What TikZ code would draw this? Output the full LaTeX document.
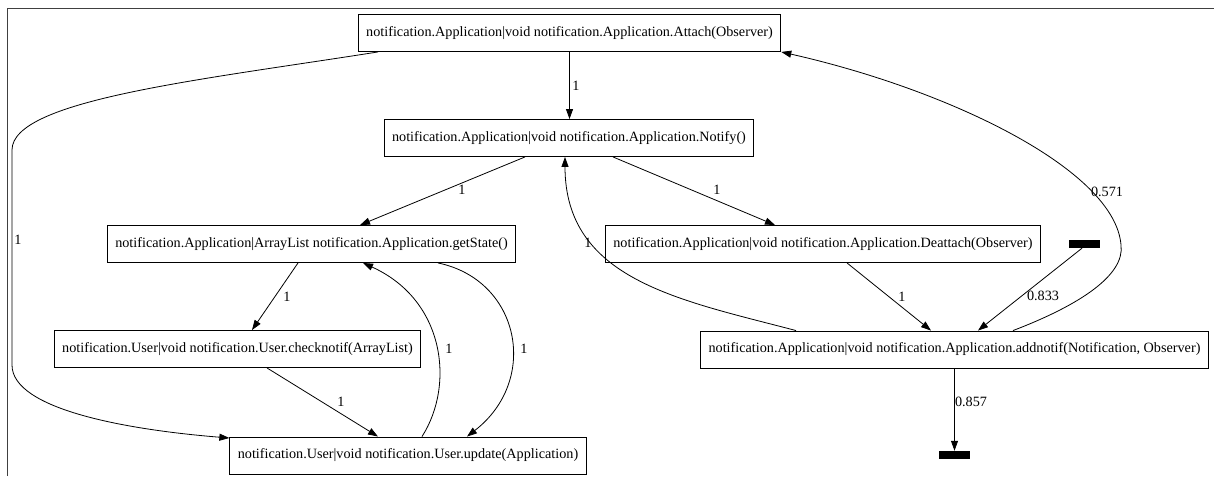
\documentclass[tikz,border=0pt]{standalone}
\usepackage{fontspec}
\setmainfont{Liberation Serif}
\usetikzlibrary{arrows.meta,calc}
\begin{document}
\begin{tikzpicture}[x=1pt,y=-1pt,
  every node/.style={font=\fontsize{14.2}{16}\selectfont},
  box/.style={draw=black,line width=0.9pt,rectangle,inner xsep=8pt,inner ysep=0pt,minimum height=37pt},
  bar/.style={fill=black,draw=none,rectangle,inner sep=0pt,minimum width=31pt,minimum height=8pt},
  lab/.style={inner sep=0pt},
  arr/.style={draw=black,line width=0.8pt,-{Triangle[length=10pt,width=7pt]}},
  frame/.style={draw=black!75,line width=1pt}]
\useasboundingbox (0,0) rectangle (1214,476);
\draw[frame] (7,476) -- (7,9) -- (1214,9);

\node[box] (att) at (569.5,33) {notification.Application|void notification.Application.Attach(Observer)};
\node[box] (ntf) at (569,138) {notification.Application|void notification.Application.Notify()};
\node[box] (gst) at (311.5,244) {notification.Application|ArrayList notification.Application.getState()};
\node[box] (dea) at (823,244) {notification.Application|void notification.Application.Deattach(Observer)};
\node[box] (chk) at (237.5,349) {notification.User|void notification.User.checknotif(ArrayList)};
\node[box] (adn) at (954.5,349.5) {notification.Application|void notification.Application.addnotif(Notification, Observer)};
\node[box] (upd) at (408,455.5) {notification.User|void notification.User.update(Application)};
\node[bar] (sb) at (1084.5,244) {};
\node[bar] (eb) at (954.5,455) {};

% edges
\draw[arr] (att.south) -- (att.south |- ntf.north);
\draw[arr] ([xshift=-44pt]ntf.south) -- ([xshift=48.5pt]gst.north);
\draw[arr] ([xshift=44pt]ntf.south) -- ([xshift=-48pt]dea.north);
\draw[arr] ([xshift=-13.5pt]gst.south) -- ([xshift=14.5pt]chk.north);
\draw[arr] ([xshift=29.5pt]chk.south) -- ([xshift=-30pt]upd.north);
\draw[arr] ([xshift=14pt]upd.north) .. controls (455,385) and (445,300) .. ([xshift=51.5pt]gst.south);
\draw[arr] ([xshift=126.5pt]gst.south) .. controls (520,280) and (540,380) .. ([xshift=59pt]upd.north);
\draw[arr] ([xshift=-191.5pt]att.south) .. controls (200,80) and (12,100) .. (12,150)
   -- (12,365) .. controls (12,410) and (130,430) .. ([yshift=17.5pt]upd.west);
\draw[arr] ([xshift=-158.5pt]adn.north) .. controls (680,300) and (565,280) .. ([xshift=-4pt]ntf.south);
\draw[arr] ([xshift=58.5pt]adn.north) .. controls (1080,305) and (1125,275) .. (1121,245)
   .. controls (1115,170) and (950,90) .. (att.south east);
\draw[arr] ([xshift=24pt]dea.south) -- ([xshift=-23.5pt]adn.north);
\draw[arr] ([xshift=-2.5pt]sb.south) -- ([xshift=23.5pt]adn.north);
\draw[arr] (adn.south) -- (eb.north);

% labels
\node[lab] (l1) at (576,86) {1};
\node[lab] (l2) at (462,190) {1};
\node[lab] (l3) at (717,190) {1};
\node[lab] (l4) at (287,297) {1};
\node[lab] (l5) at (341,402) {1};
\node[lab] (l6) at (449,349) {1};
\node[lab] (l7) at (524,349) {1};
\node[lab] (l8) at (18,240) {1};
\node[lab] (l9) at (588,243) {1};
\node[lab] (l10) at (1107,192) {0.571};
\node[lab] (l11) at (902,297) {1};
\node[lab] (l12) at (1043,296) {0.833};
\node[lab] (l13) at (971,402) {0.857};
\end{tikzpicture}
\end{document}
